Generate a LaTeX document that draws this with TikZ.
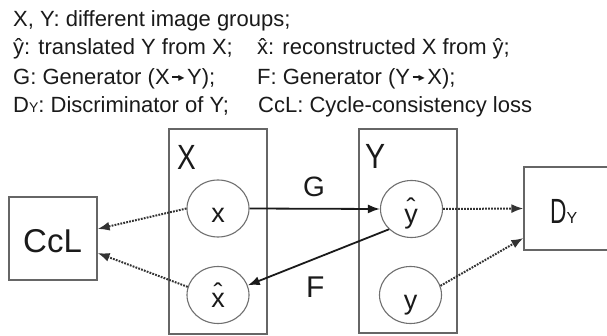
\documentclass[tikz,border=0pt]{standalone}
\usepackage{fontspec}
\setmainfont{Liberation Sans}
\newfontfamily\symfont{DejaVu Sans}
\usetikzlibrary{shapes.geometric,arrows.meta}

\definecolor{ink}{HTML}{1A1A1A}
\definecolor{frame}{HTML}{666666}
\definecolor{ring}{HTML}{707070}
\definecolor{dots}{HTML}{333333}

% small arrow with a filled head, used inside the legend lines
\newcommand\legarrow{\kern0.12em\raisebox{7.4pt}{\rule{7pt}{1.3pt}}\kern-1pt\raisebox{4.2pt}{\symfont\fontsize{8}{8}\selectfont ▶}\kern0.12em}
% subscript-like small Y of D_Y
\newcommand\smallY[1]{{\fontsize{#1}{#1}\selectfont Y}}
% letter with a raised circumflex set over it
\newcommand\lifthat[2]{\ooalign{\hfil\raisebox{#1}{ˆ}\hfil\cr #2\cr}}

\begin{document}
\begin{tikzpicture}[x=1pt,y=-1pt,
  legend/.style={anchor=base west, inner sep=0, font=\fontsize{22}{26}\selectfont, text=ink},
  group/.style={draw=frame, line width=1.2pt, rectangle, inner sep=0},
  ring/.style={draw=ring, line width=1.1pt, ellipse, minimum width=62pt, minimum height=57pt, inner sep=0},
  letter/.style={anchor=base, inner sep=0, font=\fontsize{27}{27}\selectfont, text=ink},
  tag/.style={anchor=base west, inner sep=0, text=ink},
  flow/.style={draw=ink, line width=1.8pt, -{Latex[length=12pt,width=9pt]}},
  check/.style={draw=dots, line width=2pt, dash pattern=on 1.8pt off 1.2pt, -{Latex[length=12pt,width=9pt]}}]

\useasboundingbox[fill=white] (0,0) rectangle (607,336);

% legend
\node[legend] (l1)  at (13,27)  {X, Y: different image groups;};
\node[legend] (l2a) at (13,55)  {ŷ: translated Y from X;};
\node[legend] (l2b) at (257,55) {\^{x}: reconstructed X from ŷ;};
\node[legend] (l3a) at (13,85)  {G: Generator (X\legarrow Y);};
\node[legend] (l3b) at (257,85) {F: Generator (Y\legarrow X);};
\node[legend] (l4a) at (13,113) {D\smallY{14}: Discriminator of Y;};
\node[legend] (l4b) at (258,113){CcL: Cycle-consistency loss};

% image groups
\node[group, minimum width=98pt, minimum height=205pt] (Xbox) at (218,231.5) {};
\node[group, minimum width=98pt, minimum height=204pt] (Ybox) at (408,231) {};
\node[tag, font=\fontsize{35}{35}\selectfont] (Xlab) at (177,170) {\scalebox{0.8}[1]{X}};
\node[tag, font=\fontsize{35}{35}\selectfont] (Ylab) at (365,169) {\scalebox{0.86}[1]{Y}};

% loss and discriminator
\node[group, minimum width=88pt, minimum height=83pt] (CcL) at (53,238.5) {};
\node[tag, font=\fontsize{33}{33}\selectfont] (CcLlab) at (23,253) {CcL};
\node[group, minimum width=96pt, minimum height=83pt] (Dy) at (572,208.5) {};
\node[tag, font=\fontsize{35}{35}\selectfont] (Dylab) at (550,224) {\scalebox{0.65}[1]{D}\smallY{16}};

% samples
\node[ring] (x)  at (218,208.5) {};
\node[ring] (xh) at (218,295) {};
\node[ring] (yh) at (411.5,209) {};
\node[ring] (y)  at (410.5,295) {};
\node[letter] (xt)  at (218,223) {x};
\node[letter] (xht) at (218,308) {\lifthat{5.5pt}{x}};
\node[letter] (yht) at (411,224) {\lifthat{6pt}{y}};
\node[letter] (yt)  at (410.5,309) {y};

% generators
\draw[flow] (x.east) -- (yh.west);
\draw[flow] (yh.-138) -- (xh.18);
\node[tag, font=\fontsize{28}{28}\selectfont] (G) at (303,197) {G};
\node[tag, font=\fontsize{30}{30}\selectfont] (F) at (306,298) {F};

% losses
\draw[check] (x.180) -- ([yshift=9.5pt]CcL.east);
\draw[check] (xh.165) -- ([yshift=-14.5pt]CcL.east);
\draw[check] (yh.east) -- (Dy.west);
\draw[check] (y.17) -- ([yshift=-29.5pt]Dy.west);
\end{tikzpicture}
\end{document}
